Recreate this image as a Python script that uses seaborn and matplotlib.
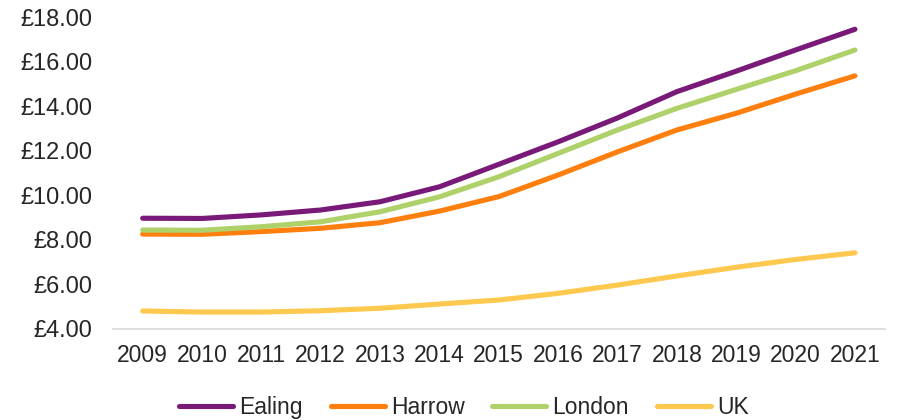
import pandas as pd
import seaborn as sns
import matplotlib.pyplot as plt
from matplotlib.ticker import FuncFormatter

# Data
years = [2009, 2010, 2011, 2012, 2013, 2014, 2015, 2016, 2017, 2018, 2019, 2020, 2021]
ealing = [8.97, 8.96, 9.12, 9.34, 9.71, 10.38, 11.39, 12.40, 13.47, 14.65, 15.57, 16.52, 17.45]
harrow = [8.26, 8.25, 8.37, 8.52, 8.77, 9.29, 9.94, 10.91, 11.95, 12.93, 13.68, 14.54, 15.36]
london = [8.44, 8.43, 8.59, 8.81, 9.26, 9.93, 10.83, 11.88, 12.93, 13.90, 14.75, 15.59, 16.52]
uk = [4.81, 4.76, 4.76, 4.82, 4.93, 5.12, 5.30, 5.60, 5.97, 6.38, 6.77, 7.12, 7.42]
series = ["Ealing", "Harrow", "London", "UK"]
colors = ["#7A1A78", "#FF7F0E", "#AED16A", "#FFC84F"]

df = pd.DataFrame({"Year": years, "Ealing": ealing, "Harrow": harrow,
                   "London": london, "UK": uk})
long = df.melt(id_vars="Year", var_name="Area", value_name="Value")

sns.set_style("white")
plt.rcParams["font.family"] = ["Liberation Sans", "DejaVu Sans"]

fig = plt.figure(figsize=(8.99, 4.2), dpi=100)
ax = fig.add_axes([0.1257, 0.2167, 0.8583, 0.7428])

sns.lineplot(data=long, x="Year", y="Value", hue="Area", hue_order=series,
             palette=colors, linewidth=3.7, ax=ax, legend=False)
for line in ax.lines:
    line.set_solid_capstyle("round")

ax.set_xlim(2008.5, 2021.5)
ax.set_ylim(4, 18)
ax.set_yticks(range(4, 19, 2))
ax.yaxis.set_major_formatter(FuncFormatter(lambda v, p: "£%.2f" % v))
ax.set_xticks(years)
ax.set_xticklabels([str(y) for y in years])
ax.tick_params(axis="y", labelsize=17, length=0, pad=15, colors="#262626")
ax.tick_params(axis="x", labelsize=16.5, length=0, pad=11, colors="#262626")
ax.set_xlabel("")
ax.set_ylabel("")

for s in ["left", "top", "right"]:
    ax.spines[s].set_visible(False)
ax.spines["bottom"].set_color("#D9D9D9")
ax.spines["bottom"].set_linewidth(1.2)

handles = [plt.Line2D([], [], color=c, linewidth=3.7, solid_capstyle="round") for c in colors]
leg = fig.legend(handles, series, loc="center", bbox_to_anchor=(0.516, 0.0286),
                 ncol=4, frameon=False, handlelength=2.36, handletextpad=0.26,
                 columnspacing=1.22, borderaxespad=0, borderpad=0, fontsize=16.5)
for t in leg.get_texts():
    t.set_color("#262626")

fig.savefig("out.png", dpi=100)
